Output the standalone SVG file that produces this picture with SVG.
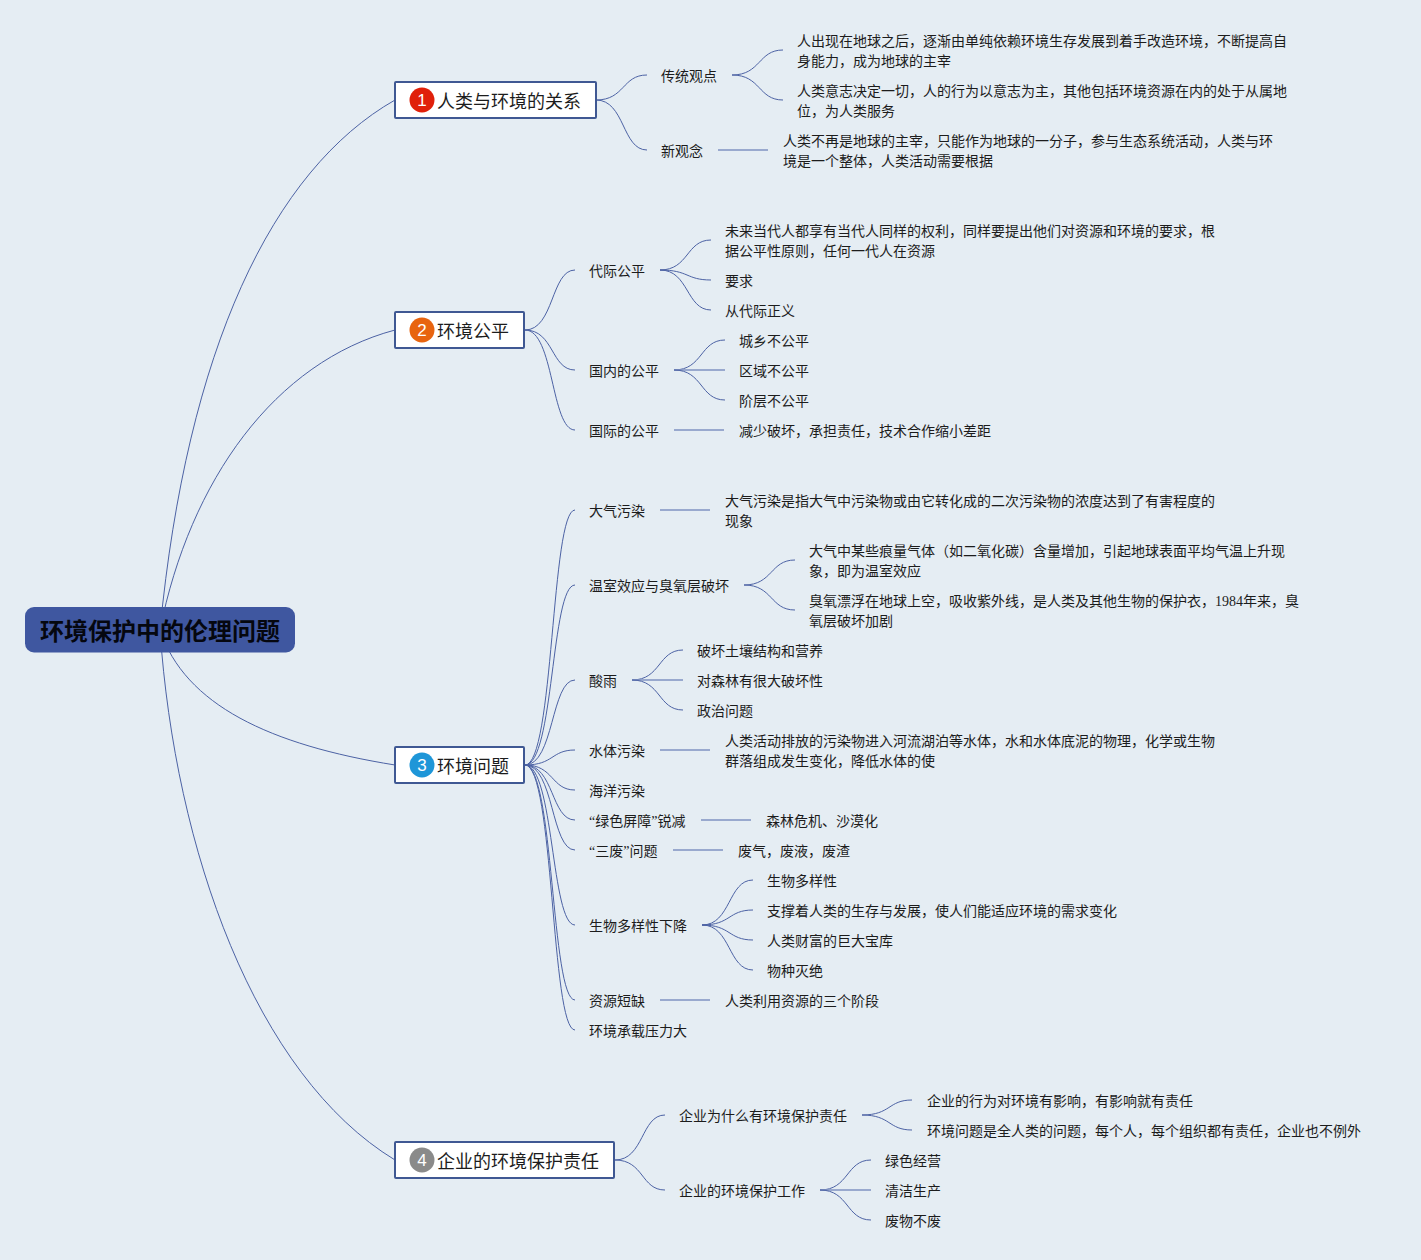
<svg xmlns="http://www.w3.org/2000/svg" width="1421" height="1260" viewBox="0 0 1421 1260">
<style>
text{font-family:"Noto Sans CJK SC","Noto Sans",sans-serif;fill:#1c1c1c}
.t{font-size:14px}
.n{font-size:18px}
.r{font-size:24px;font-weight:700;fill:#05070f}
.box{fill:#fff;stroke:#3f5893;stroke-width:2}
.d{font-size:17px;fill:#fff;text-anchor:middle;font-family:"Liberation Sans",sans-serif}
.c path{fill:none;stroke:#4c62a4;stroke-width:1}
.c line{stroke:#7f92c2;stroke-width:1.3}
.s{font-family:"Liberation Serif",serif}
</style>
<rect width="1421" height="1260" fill="#e5edf3"/>
<g id="connectors" class="c">
<path d="M160 630C187 350 272 170 395 100"/>
<path d="M160 630C190 480 275 362 395 330"/>
<path d="M160 630C185 705 270 745 395 765"/>
<path d="M160 630C175 850 255 1075 395 1160"/>
<path d="M596 100C625 100 622 75 647 75"/>
<path d="M596 100C625 100 622 150 647 150"/>
<path d="M732 75C761 75 758 50 783 50"/>
<path d="M732 75C761 75 758 100 783 100"/>
<line x1="718" y1="150" x2="768" y2="150"/>
<path d="M525 330C554 330 551 270 575 270"/>
<path d="M525 330C554 330 551 370 575 370"/>
<path d="M525 330C554 330 551 430 575 430"/>
<path d="M660 270C689 270 686 240 711 240"/>
<path d="M660 270C689 270 686 280 711 280"/>
<path d="M660 270C689 270 686 310 711 310"/>
<path d="M674 370C703 370 700 340 725 340"/>
<line x1="674" y1="370" x2="725" y2="370"/>
<path d="M674 370C703 370 700 400 725 400"/>
<line x1="674" y1="430" x2="724" y2="430"/>
<path d="M525 765C554 765 551 510 575 510"/>
<path d="M525 765C554 765 551 585 575 585"/>
<path d="M525 765C554 765 551 680 575 680"/>
<path d="M525 765C554 765 551 750 575 750"/>
<path d="M525 765C554 765 551 790 575 790"/>
<path d="M525 765C554 765 551 820 575 820"/>
<path d="M525 765C554 765 551 850 575 850"/>
<path d="M525 765C554 765 551 925 575 925"/>
<path d="M525 765C554 765 551 1000 575 1000"/>
<path d="M525 765C554 765 551 1030 575 1030"/>
<line x1="660" y1="510" x2="710" y2="510"/>
<path d="M744 585C773 585 770 560 795 560"/>
<path d="M744 585C773 585 770 610 795 610"/>
<path d="M632 680C661 680 658 650 683 650"/>
<line x1="632" y1="680" x2="683" y2="680"/>
<path d="M632 680C661 680 658 710 683 710"/>
<line x1="660" y1="750" x2="710" y2="750"/>
<line x1="701" y1="820" x2="751" y2="820"/>
<line x1="673" y1="850" x2="723" y2="850"/>
<path d="M702 925C731 925 728 880 753 880"/>
<path d="M702 925C731 925 728 910 753 910"/>
<path d="M702 925C731 925 728 940 753 940"/>
<path d="M702 925C731 925 728 970 753 970"/>
<line x1="660" y1="1000" x2="710" y2="1000"/>
<path d="M615 1160C644 1160 641 1115 665 1115"/>
<path d="M615 1160C644 1160 641 1190 665 1190"/>
<path d="M862 1115C891 1115 888 1100 912 1100"/>
<path d="M862 1115C891 1115 888 1130 912 1130"/>
<path d="M820 1190C849 1190 846 1160 871 1160"/>
<line x1="820" y1="1190" x2="871" y2="1190"/>
<path d="M820 1190C849 1190 846 1220 871 1220"/>
</g>
<g id="root"><rect x="25" y="607" width="270" height="45.500" rx="9" fill="#3f57a0"/><text class="r" x="40" y="640">环境保护中的伦理问题</text></g>
<g id="n1"><rect class="box" x="395" y="82" width="201" height="36" rx="1"/><circle cx="422" cy="100" r="12.500" fill="#e0200a"/><text class="d" x="422" y="106">1</text><text class="n" x="437" y="108">人类与环境的关系</text></g>
<g id="n2"><rect class="box" x="395" y="312" width="129" height="36" rx="1"/><circle cx="422" cy="330" r="12.500" fill="#e8640f"/><text class="d" x="422" y="336">2</text><text class="n" x="437" y="338">环境公平</text></g>
<g id="n3"><rect class="box" x="395" y="747" width="129" height="36" rx="1"/><circle cx="422" cy="765" r="12.500" fill="#1e96d8"/><text class="d" x="422" y="771">3</text><text class="n" x="437" y="773">环境问题</text></g>
<g id="n4"><rect class="box" x="395" y="1142" width="219" height="36" rx="1"/><circle cx="422" cy="1160" r="12.500" fill="#8a8a8a"/><text class="d" x="422" y="1166">4</text><text class="n" x="437" y="1168">企业的环境保护责任</text></g>
<g id="leaves" class="t">
<text class="t" x="661" y="81">传统观点</text>
<text class="t" x="661" y="156">新观念</text>
<text class="t" x="797" y="46">人出现在地球之后，逐渐由单纯依赖环境生存发展到着手改造环境，不断提高自</text>
<text class="t" x="797" y="66">身能力，成为地球的主宰</text>
<text class="t" x="797" y="96">人类意志决定一切，人的行为以意志为主，其他包括环境资源在内的处于从属地</text>
<text class="t" x="797" y="116">位，为人类服务</text>
<text class="t" x="783" y="146">人类不再是地球的主宰，只能作为地球的一分子，参与生态系统活动，人类与环</text>
<text class="t" x="783" y="166">境是一个整体，人类活动需要根据</text>
<text class="t" x="589" y="276">代际公平</text>
<text class="t" x="589" y="376">国内的公平</text>
<text class="t" x="589" y="436">国际的公平</text>
<text class="t" x="725" y="236">未来当代人都享有当代人同样的权利，同样要提出他们对资源和环境的要求，根</text>
<text class="t" x="725" y="256">据公平性原则，任何一代人在资源</text>
<text class="t" x="725" y="286">要求</text>
<text class="t" x="725" y="316">从代际正义</text>
<text class="t" x="739" y="346">城乡不公平</text>
<text class="t" x="739" y="376">区域不公平</text>
<text class="t" x="739" y="406">阶层不公平</text>
<text class="t" x="739" y="436">减少破坏，承担责任，技术合作缩小差距</text>
<text class="t" x="589" y="516">大气污染</text>
<text class="t" x="589" y="591">温室效应与臭氧层破坏</text>
<text class="t" x="589" y="686">酸雨</text>
<text class="t" x="589" y="756">水体污染</text>
<text class="t" x="589" y="796">海洋污染</text>
<text class="t" x="589" y="826"><tspan class="s">“</tspan>绿色屏障<tspan class="s">”</tspan>锐减</text>
<text class="t" x="589" y="856"><tspan class="s">“</tspan>三废<tspan class="s">”</tspan>问题</text>
<text class="t" x="589" y="931">生物多样性下降</text>
<text class="t" x="589" y="1006">资源短缺</text>
<text class="t" x="589" y="1036">环境承载压力大</text>
<text class="t" x="725" y="506">大气污染是指大气中污染物或由它转化成的二次污染物的浓度达到了有害程度的</text>
<text class="t" x="725" y="526">现象</text>
<text class="t" x="809" y="556">大气中某些痕量气体（如二氧化碳）含量增加，引起地球表面平均气温上升现</text>
<text class="t" x="809" y="576">象，即为温室效应</text>
<text class="t" x="809" y="606">臭氧漂浮在地球上空，吸收紫外线，是人类及其他生物的保护衣，<tspan class="s">1984</tspan>年来，臭</text>
<text class="t" x="809" y="626">氧层破坏加剧</text>
<text class="t" x="697" y="656">破坏土壤结构和营养</text>
<text class="t" x="697" y="686">对森林有很大破坏性</text>
<text class="t" x="697" y="716">政治问题</text>
<text class="t" x="725" y="746">人类活动排放的污染物进入河流湖泊等水体，水和水体底泥的物理，化学或生物</text>
<text class="t" x="725" y="766">群落组成发生变化，降低水体的使</text>
<text class="t" x="766" y="826">森林危机、沙漠化</text>
<text class="t" x="738" y="856">废气，废液，废渣</text>
<text class="t" x="767" y="886">生物多样性</text>
<text class="t" x="767" y="916">支撑着人类的生存与发展，使人们能适应环境的需求变化</text>
<text class="t" x="767" y="946">人类财富的巨大宝库</text>
<text class="t" x="767" y="976">物种灭绝</text>
<text class="t" x="725" y="1006">人类利用资源的三个阶段</text>
<text class="t" x="679" y="1121">企业为什么有环境保护责任</text>
<text class="t" x="679" y="1196">企业的环境保护工作</text>
<text class="t" x="927" y="1106">企业的行为对环境有影响，有影响就有责任</text>
<text class="t" x="927" y="1136">环境问题是全人类的问题，每个人，每个组织都有责任，企业也不例外</text>
<text class="t" x="885" y="1166">绿色经营</text>
<text class="t" x="885" y="1196">清洁生产</text>
<text class="t" x="885" y="1226">废物不废</text>
</g>
</svg>
